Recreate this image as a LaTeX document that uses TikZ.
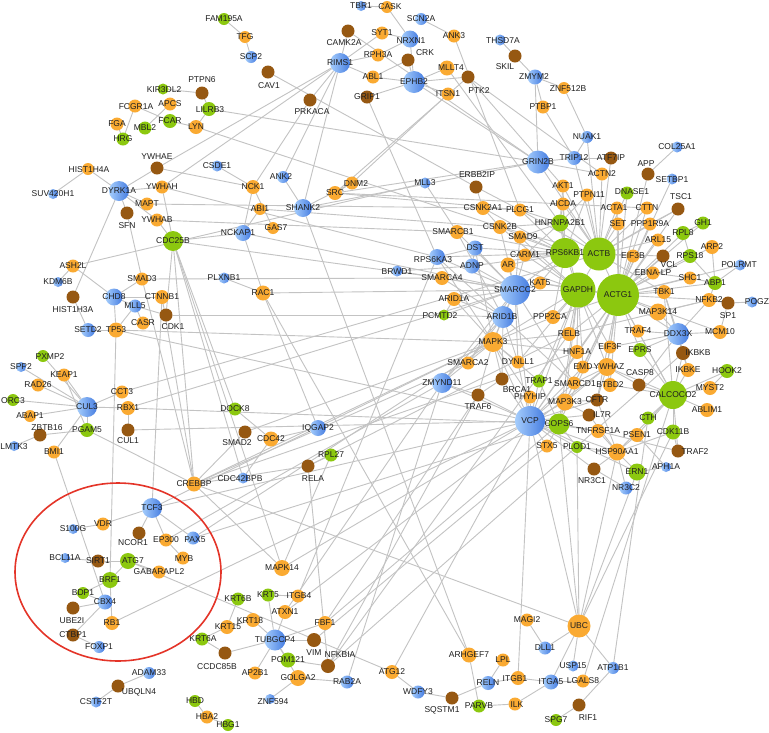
\documentclass[tikz,border=0pt]{standalone}
\usepackage{fontspec}
\setmainfont{Liberation Sans}
\usetikzlibrary{calc}
\definecolor{cO}{RGB}{250,170,50}
\definecolor{cB}{RGB}{150,88,18}
\definecolor{cG}{RGB}{140,200,15}
\definecolor{cUl}{RGB}{165,205,252}
\definecolor{cUd}{RGB}{70,125,225}
\definecolor{edc}{RGB}{195,195,195}
\definecolor{redc}{RGB}{228,52,40}
\pgfdeclarelayer{bg}\pgfsetlayers{bg,main}
\tikzset{
 nd/.style={circle,inner sep=0pt,outer sep=0pt},
 nO/.style={nd,fill=cO},
 nB/.style={nd,fill=cB},
 nG/.style={nd,fill=cG},
 nU/.style={nd,left color=cUl,right color=cUd},
 lbl/.style={font=\fontsize{8.5}{9}\selectfont,text=black!88,inner sep=0pt},
 edg/.style={draw=edc,line width=0.9pt}
}
\newcommand\lbls{}
\newcommand\nd[8]{\node[#2,minimum size=#5pt] (#1) at (#3,#4) {};
 \expandafter\gdef\expandafter\lbls\expandafter{\lbls\node[lbl] at ($(#1.center)+(#7,#8)$) {#6};}}
\begin{document}
\begin{tikzpicture}[x=1pt,y=-1pt]
\useasboundingbox (0,0) rectangle (769,732);
% top-left
\nd{FAM195A}{nG}{224}{19}{12}{FAM195A}{0}{0}
\nd{TFG}{nO}{245}{37}{12}{TFG}{0}{0}
\nd{SCP2}{nU}{251}{57}{12}{SCP2}{0}{0}
\nd{KIR3DL2}{nG}{163}{89}{11}{KIR3DL2}{1}{1}
\nd{PTPN6}{nB}{202}{93}{13}{PTPN6}{0}{-13}
\nd{FCGR1A}{nO}{135}{106}{13}{FCGR1A}{1}{1}
\nd{APCS}{nO}{170}{104}{13}{APCS}{0}{0}
\nd{LILRB3}{nG}{209}{109}{14}{LILRB3}{1}{1}
\nd{FGA}{nO}{117}{124}{13}{FGA}{0}{0}
\nd{MBL2}{nG}{145}{128}{13}{MBL2}{0}{0}
\nd{FCAR}{nG}{170}{121}{14}{FCAR}{0}{0}
\nd{LYN}{nO}{196}{127}{14}{LYN}{0}{0}
\nd{HRG}{nG}{123}{139}{13}{HRG}{0}{0}
\nd{YWHAE}{nB}{157}{168}{13}{YWHAE}{0}{-11}
\nd{HIST1H4A}{nO}{88}{169}{12}{HIST1H4A}{1}{1}
\nd{CSDE1}{nU}{217}{166}{11}{CSDE1}{0}{0}
% top-middle
\nd{TBR1}{nU}{361}{6}{10}{TBR1}{0}{0}
\nd{CASK}{nO}{387}{7}{12}{CASK}{3}{0}
\nd{SCN2A}{nU}{421}{19}{12}{SCN2A}{0}{0}
\nd{CAMK2A}{nB}{348}{31}{13}{CAMK2A}{-4}{12}
\nd{SYT1}{nO}{382}{33}{13}{SYT1}{0}{0}
\nd{NRXN1}{nU}{410}{39}{17}{NRXN1}{1}{2}
\nd{ANK3}{nO}{454}{36}{13}{ANK3}{0}{0}
\nd{THSD7A}{nU}{500}{40}{11}{THSD7A}{3}{1}
\nd{RIMS1}{nU}{340}{63}{20}{RIMS1}{0}{0}
\nd{RPH3A}{nO}{378}{55}{13}{RPH3A}{0}{0}
\nd{CRK}{nB}{408}{60}{13}{CRK}{17}{-7}
\nd{MLLT4}{nO}{447}{68}{15}{MLLT4}{4}{0}
\nd{SKIL}{nB}{515}{56}{13}{SKIL}{-10}{11}
\nd{ABL1}{nO}{373}{77}{13}{ABL1}{0}{0}
\nd{EPHB2}{nU}{414}{82}{22}{EPHB2}{0}{0}
\nd{PTK2}{nB}{468}{77}{13}{PTK2}{11}{14}
\nd{ITSN1}{nO}{448}{94}{13}{ITSN1}{0}{0}
\nd{CAV1}{nB}{268}{72}{13}{CAV1}{1}{14}
\nd{GRIP1}{nB}{367}{97}{13}{GRIP1}{0}{0}
\nd{PRKACA}{nB}{310}{100}{13}{PRKACA}{2}{12}
\nd{ZMYM2}{nU}{535}{77}{15}{ZMYM2}{-1}{0}
\nd{ZNF512B}{nO}{564}{88}{12}{ZNF512B}{4}{1}
\nd{PTBP1}{nO}{543}{107}{13}{PTBP1}{0}{0}
\nd{NUAK1}{nU}{587}{137}{12}{NUAK1}{0}{0}
\nd{COL25A1}{nU}{677}{147}{11}{COL25A1}{0}{0}
\nd{TRIP12}{nU}{574}{158}{14}{TRIP12}{0}{0}
\nd{ATF7IP}{nB}{611}{158}{13}{ATF7IP}{0}{0}
\nd{GRIN2B}{nU}{538}{162}{23}{GRIN2B}{0}{0}
\nd{APP}{nB}{648}{174}{13}{APP}{-2}{-10}
\nd{SETBP1}{nU}{672}{179}{11}{SETBP1}{0}{1}
\nd{ACTN2}{nO}{602}{174}{13}{ACTN2}{0}{0}
\nd{ERBB2IP}{nB}{476}{187}{13}{ERBB2IP}{1}{-12}
% left upper
\nd{SUV420H1}{nU}{53}{194}{10}{SUV420H1}{0}{0}
\nd{DYRK1A}{nU}{119}{191}{20}{DYRK1A}{0}{0}
\nd{YWHAH}{nO}{162}{187}{13}{YWHAH}{0}{0}
\nd{NCK1}{nO}{253}{187}{14}{NCK1}{0}{0}
\nd{ANK2}{nU}{283}{177}{12}{ANK2}{-2}{0}
\nd{DNM2}{nO}{352}{183}{13}{DNM2}{4}{1}
\nd{MLL3}{nU}{425}{183}{11}{MLL3}{0}{0}
\nd{MAPT}{nO}{147}{204}{13}{MAPT}{0}{0}
\nd{SFN}{nB}{127}{213}{13}{SFN}{0}{13}
\nd{YWHAB}{nO}{157}{220}{13}{YWHAB}{0}{0}
\nd{CDC25B}{nG}{173}{241}{20}{CDC25B}{0}{0}
\nd{NCKAP1}{nU}{243}{233}{16}{NCKAP1}{-5}{0}
\nd{SHANK2}{nU}{303}{208}{18}{SHANK2}{0}{0}
\nd{SRC}{nO}{335}{193}{14}{SRC}{0}{0}
\nd{ABI1}{nO}{260}{209}{12}{ABI1}{0}{0}
\nd{GAS7}{nO}{273}{228}{12}{GAS7}{3}{0}
\nd{ASH2L}{nO}{73}{266}{13}{ASH2L}{0}{0}
\nd{KDM6B}{nU}{58}{282}{10}{KDM6B}{0}{0}
\nd{SMAD3}{nO}{142}{279}{13}{SMAD3}{0}{0}
\nd{PLXNB1}{nU}{224}{278}{11}{PLXNB1}{0}{0}
\nd{HIST1H3A}{nB}{73}{297}{13}{HIST1H3A}{0}{13}
\nd{CHD8}{nU}{114}{297}{17}{CHD8}{0}{0}
\nd{CTNNB1}{nO}{162}{297}{14}{CTNNB1}{0}{0}
\nd{MLL5}{nU}{135}{306}{13}{MLL5}{0}{0}
\nd{CDK1}{nB}{166}{315}{13}{CDK1}{7}{12}
\nd{CASR}{nO}{143}{323}{13}{CASR}{0}{0}
\nd{SETD2}{nU}{88}{330}{14}{SETD2}{0}{0}
\nd{TP53}{nO}{116}{330}{15}{TP53}{0}{0}
\nd{RAC1}{nO}{263}{293}{15}{RAC1}{0}{0}
\nd{PXMP2}{nG}{43}{356}{12}{PXMP2}{7}{1}
% center
\nd{CSNK2A1}{nO}{483}{208}{14}{CSNK2A1}{0}{0}
\nd{SMARCB1}{nO}{457}{232}{14}{SMARCB1}{-4}{0}
\nd{CSNK2B}{nO}{500}{227}{14}{CSNK2B}{0}{0}
\nd{DST}{nU}{475}{248}{15}{DST}{0}{0}
\nd{RPS6KA3}{nU}{437}{257}{16}{RPS6KA3}{-4}{3}
\nd{ADNP}{nU}{472}{266}{15}{ADNP}{0}{0}
\nd{AR}{nO}{508}{265}{15}{AR}{0}{0}
\nd{BRWD1}{nU}{397}{271}{11}{BRWD1}{0}{1}
\nd{SMARCA4}{nO}{442}{278}{14}{SMARCA4}{0}{0}
\nd{ARID1A}{nO}{454}{299}{14}{ARID1A}{0}{0}
\nd{PCMTD2}{nG}{444}{315}{11}{PCMTD2}{-4}{1}
\nd{MAPK3}{nO}{493}{342}{20}{MAPK3}{0}{0}
\nd{SMARCA2}{nO}{468}{363}{13}{SMARCA2}{0}{0}
\nd{ARID1B}{nU}{503}{317}{22}{ARID1B}{-1}{0}
\nd{SMARCC2}{nU}{515}{290}{30}{SMARCC2}{0}{0}
% right cluster
\nd{AKT1}{nO}{563}{186}{13}{AKT1}{0}{0}
\nd{DNASE1}{nG}{627}{193}{13}{DNASE1}{5}{-1}
\nd{PTPN11}{nO}{587}{195}{13}{PTPN11}{2}{0}
\nd{TSC1}{nB}{678}{209}{13}{TSC1}{3}{-12}
\nd{AICDA}{nO}{563}{204}{13}{AICDA}{0}{0}
\nd{PLCG1}{nO}{520}{210}{13}{PLCG1}{0}{0}
\nd{ACTA1}{nO}{617}{208}{13}{ACTA1}{-3}{0}
\nd{CTTN}{nO}{647}{208}{13}{CTTN}{0}{0}
\nd{HNRNPA2B1}{nG}{560}{223}{17}{HNRNPA2B1}{0}{0}
\nd{SET}{nO}{618}{224}{13}{SET}{0}{0}
\nd{PPP1R9A}{nO}{650}{224}{13}{PPP1R9A}{0}{0}
\nd{GH1}{nG}{703}{223}{13}{GH1}{0}{0}
\nd{RPL8}{nG}{683}{233}{14}{RPL8}{0}{0}
\nd{SMAD9}{nO}{520}{237}{13}{SMAD9}{3}{0}
\nd{ARL15}{nO}{658}{240}{13}{ARL15}{0}{0}
\nd{ARP2}{nO}{712}{247}{14}{ARP2}{0}{0}
\nd{RPS6KB1}{nG}{565}{253}{30}{RPS6KB1}{0}{0}
\nd{ACTB}{nG}{599}{254}{33}{ACTB}{0}{0}
\nd{EIF3B}{nO}{633}{256}{13}{EIF3B}{0}{0}
\nd{VCL}{nB}{663}{256}{13}{VCL}{6}{9}
\nd{RPS18}{nG}{690}{256}{14}{RPS18}{0}{0}
\nd{CARM1}{nO}{525}{255}{13}{CARM1}{0}{0}
\nd{POLRMT}{nU}{740}{265}{11}{POLRMT}{-1}{0}
\nd{EBNALP}{nO}{653}{273}{13}{EBNA-LP}{0}{0}
\nd{SHC1}{nO}{690}{278}{13}{SHC1}{0}{0}
\nd{ABP1}{nG}{715}{283}{14}{ABP1}{0}{0}
\nd{KAT5}{nO}{540}{283}{13}{KAT5}{0}{0}
\nd{GAPDH}{nG}{578}{290}{35}{GAPDH}{0}{0}
\nd{ACTG1}{nG}{618}{295}{42}{ACTG1}{0}{0}
\nd{TBK1}{nO}{664}{292}{14}{TBK1}{0}{0}
\nd{NFKB2}{nO}{709}{300}{14}{NFKB2}{0}{0}
\nd{SP1}{nB}{728}{303}{13}{SP1}{0}{13}
\nd{POGZ}{nU}{752}{302}{11}{POGZ}{5}{0}
\nd{MAP3K14}{nO}{658}{312}{17}{MAP3K14}{0}{0}
\nd{PPP2CA}{nO}{553}{317}{14}{PPP2CA}{-3}{0}
\nd{DDX3X}{nU}{678}{334}{22}{DDX3X}{0}{0}
\nd{MCM10}{nO}{720}{332}{14}{MCM10}{0}{0}
\nd{RELB}{nO}{569}{334}{14}{RELB}{0}{0}
\nd{TRAF4}{nO}{638}{331}{13}{TRAF4}{0}{0}
\nd{HNF1A}{nO}{577}{352}{14}{HNF1A}{0}{0}
\nd{EIF3F}{nO}{610}{347}{13}{EIF3F}{0}{0}
\nd{EPRS}{nG}{640}{350}{14}{EPRS}{0}{0}
\nd{IKBKB}{nB}{683}{353}{14}{IKBKB}{15}{0}
\nd{DYNLL1}{nO}{518}{362}{13}{DYNLL1}{0}{0}
\nd{EMD}{nO}{583}{367}{13}{EMD}{0}{0}
\nd{YWHAZ}{nO}{607}{367}{18}{YWHAZ}{2}{0}
\nd{CASP8}{nB}{639}{385}{13}{CASP8}{1}{-12}
\nd{IKBKE}{nO}{688}{370}{14}{IKBKE}{0}{0}
\nd{HOOK2}{nG}{727}{371}{14}{HOOK2}{0}{0}
\nd{TRAP1}{nG}{539}{381}{13}{TRAP1}{0}{0}
\nd{SMARCD1}{nO}{574}{383}{13}{SMARCD1}{1}{1}
\nd{BTBD2}{nO}{610}{385}{14}{BTBD2}{0}{0}
\nd{MYST2}{nO}{710}{388}{14}{MYST2}{0}{0}
\nd{CALCOCO2}{nG}{673}{395}{28}{CALCOCO2}{0}{0}
\nd{PHYHIP}{nO}{530}{397}{13}{PHYHIP}{0}{0}
\nd{MAP3K3}{nO}{565}{402}{17}{MAP3K3}{0}{0}
\nd{CFTR}{nB}{597}{400}{13}{CFTR}{0}{0}
\nd{IL7R}{nB}{589}{415}{13}{IL7R}{13}{0}
\nd{ABLIM1}{nO}{707}{410}{14}{ABLIM1}{0}{0}
\nd{VCP}{nU}{530}{421}{30}{VCP}{0}{0}
\nd{COPS6}{nG}{559}{424}{21}{COPS6}{0}{0}
\nd{CTH}{nG}{648}{418}{13}{CTH}{0}{0}
\nd{TNFRSF1A}{nO}{598}{431}{14}{TNFRSF1A}{0}{0}
\nd{PSEN1}{nO}{637}{435}{14}{PSEN1}{0}{0}
\nd{CDK11B}{nG}{673}{432}{15}{CDK11B}{0}{0}
\nd{STX5}{nO}{547}{446}{13}{STX5}{0}{0}
\nd{PLOD1}{nG}{577}{447}{12}{PLOD1}{0}{0}
\nd{HSP90AA1}{nO}{617}{452}{17}{HSP90AA1}{0}{0}
\nd{TRAF2}{nB}{678}{451}{13}{TRAF2}{17}{1}
\nd{APH1A}{nU}{666}{467}{10}{APH1A}{0}{0}
\nd{NR3C1}{nB}{594}{469}{13}{NR3C1}{-2}{12}
\nd{ERN1}{nG}{637}{472}{17}{ERN1}{0}{0}
\nd{NR3C2}{nU}{626}{488}{13}{NR3C2}{0}{0}
\nd{ZMYND11}{nU}{442}{383}{20}{ZMYND11}{0}{0}
\nd{BRCA1}{nB}{502}{379}{13}{BRCA1}{15}{11}
\nd{TRAF6}{nB}{478}{395}{13}{TRAF6}{0}{12}
% left lower
\nd{SPP2}{nU}{21}{367}{10}{SPP2}{0}{0}
\nd{KEAP1}{nO}{64}{375}{13}{KEAP1}{0}{0}
\nd{RAD26}{nO}{38}{385}{13}{RAD26}{0}{0}
\nd{CCT3}{nO}{122}{392}{13}{CCT3}{0}{0}
\nd{ORC3}{nG}{13}{400}{12}{ORC3}{0}{1}
\nd{CUL3}{nU}{87}{407}{20}{CUL3}{0}{0}
\nd{RBX1}{nO}{128}{408}{14}{RBX1}{0}{0}
\nd{ABAP1}{nO}{30}{416}{12}{ABAP1}{0}{0}
\nd{DOCK8}{nG}{235}{409}{13}{DOCK8}{0}{0}
\nd{ZBTB16}{nB}{40}{435}{13}{ZBTB16}{7}{-7}
\nd{PGAM5}{nG}{87}{430}{14}{PGAM5}{0}{0}
\nd{CUL1}{nB}{128}{430}{13}{CUL1}{0}{11}
\nd{SMAD2}{nB}{245}{432}{13}{SMAD2}{-8}{11}
\nd{LMTK3}{nU}{14}{446}{10}{LMTK3}{0}{1}
\nd{BMI1}{nO}{54}{452}{13}{BMI1}{0}{0}
\nd{CDC42}{nO}{271}{439}{15}{CDC42}{0}{0}
\nd{IQGAP2}{nU}{318}{428}{16}{IQGAP2}{0}{0}
\nd{RPL27}{nG}{331}{455}{13}{RPL27}{0}{0}
\nd{RELA}{nB}{308}{466}{13}{RELA}{5}{13}
\nd{CREBBP}{nO}{194}{484}{15}{CREBBP}{0}{0}
\nd{CDC42BPB}{nU}{243}{478}{11}{CDC42BPB}{-3}{1}
\nd{TCF3}{nU}{152}{508}{20}{TCF3}{0}{0}
\nd{VDR}{nO}{103}{524}{13}{VDR}{0}{0}
\nd{S100G}{nU}{73}{529}{10}{S100G}{0}{0}
\nd{NCOR1}{nB}{139}{533}{13}{NCOR1}{-6}{10}
\nd{EP300}{nO}{166}{540}{13}{EP300}{0}{0}
\nd{PAX5}{nU}{193}{538}{13}{PAX5}{2}{2}
\nd{BCL11A}{nU}{65}{558}{10}{BCL11A}{0}{0}
\nd{SIRT1}{nB}{98}{561}{13}{SIRT1}{0}{0}
\nd{ATG7}{nG}{128}{561}{16}{ATG7}{5}{0}
\nd{MYB}{nO}{183}{558}{13}{MYB}{1}{1}
\nd{GABARAPL2}{nO}{159}{572}{13}{GABARAPL2}{0}{0}
\nd{BRF1}{nG}{110}{580}{16}{BRF1}{0}{0}
\nd{BDP1}{nG}{83}{593}{12}{BDP1}{0}{0}
\nd{CBX4}{nU}{105}{602}{15}{CBX4}{0}{0}
\nd{KRT6B}{nG}{238}{599}{13}{KRT6B}{0}{0}
\nd{UBE2I}{nB}{73}{608}{13}{UBE2I}{-1}{13}
\nd{RB1}{nO}{112}{623}{14}{RB1}{0}{0}
\nd{KRT15}{nO}{227}{627}{14}{KRT15}{1}{0}
\nd{CTBP1}{nB}{73}{635}{13}{CTBP1}{0}{0}
\nd{KRT6A}{nG}{202}{639}{13}{KRT6A}{1}{0}
\nd{FOXP1}{nU}{99}{647}{12}{FOXP1}{0}{0}
\nd{CCDC85B}{nB}{225}{653}{13}{CCDC85B}{-8}{14}
\nd{ADAM33}{nU}{149}{673}{12}{ADAM33}{0}{0}
\nd{UBQLN4}{nB}{118}{686}{13}{UBQLN4}{21}{6}
\nd{CSTF2T}{nU}{96}{702}{11}{CSTF2T}{0}{0}
\nd{HBD}{nG}{195}{701}{12}{HBD}{0}{0}
\nd{HBA2}{nO}{207}{717}{13}{HBA2}{0}{0}
\nd{HBG1}{nG}{228}{725}{12}{HBG1}{0}{0}
% bottom middle
\nd{MAPK14}{nO}{282}{568}{16}{MAPK14}{0}{0}
\nd{KRT5}{nG}{268}{595}{13}{KRT5}{0}{0}
\nd{ITGB4}{nO}{298}{596}{13}{ITGB4}{1}{0}
\nd{KRT18}{nO}{253}{620}{14}{KRT18}{-3}{1}
\nd{ATXN1}{nO}{285}{612}{14}{ATXN1}{0}{0}
\nd{FBF1}{nO}{325}{623}{14}{FBF1}{0}{0}
\nd{TUBGCP4}{nU}{275}{640}{21}{TUBGCP4}{0}{0}
\nd{VIM}{nB}{314}{640}{14}{VIM}{0}{13}
\nd{POM121}{nG}{288}{660}{15}{POM121}{0}{0}
\nd{NFKBIA}{nB}{328}{666}{14}{NFKBIA}{12}{-11}
\nd{AP2B1}{nO}{255}{673}{13}{AP2B1}{0}{0}
\nd{GOLGA2}{nO}{298}{678}{16}{GOLGA2}{0}{0}
\nd{RAB2A}{nU}{347}{682}{13}{RAB2A}{0}{0}
\nd{ATG12}{nO}{392}{672}{14}{ATG12}{0}{0}
\nd{ZNF594}{nU}{270}{699}{10}{ZNF594}{3}{3}
\nd{WDFY3}{nU}{418}{692}{13}{WDFY3}{0}{0}
\nd{SQSTM1}{nB}{452}{698}{13}{SQSTM1}{-10}{12}
\nd{ARHGEF7}{nO}{469}{655}{15}{ARHGEF7}{0}{0}
\nd{LPL}{nO}{503}{660}{13}{LPL}{0}{0}
\nd{RELN}{nU}{488}{683}{14}{RELN}{0}{0}
\nd{PARVB}{nG}{479}{706}{13}{PARVB}{0}{0}
\nd{ITGB1}{nO}{518}{678}{14}{ITGB1}{-3}{1}
\nd{ILK}{nO}{515}{704}{13}{ILK}{2}{1}
\nd{MAGI2}{nO}{527}{620}{13}{MAGI2}{0}{0}
\nd{UBC}{nO}{579}{626}{23}{UBC}{0}{0}
\nd{DLL1}{nU}{545}{648}{13}{DLL1}{0}{0}
\nd{USP15}{nU}{573}{666}{11}{USP15}{0}{0}
\nd{ATP1B1}{nU}{613}{668}{12}{ATP1B1}{0}{0}
\nd{ITGA5}{nU}{551}{682}{15}{ITGA5}{0}{0}
\nd{LGALS8}{nO}{583}{681}{13}{LGALS8}{0}{0}
\nd{RIF1}{nB}{579}{705}{13}{RIF1}{9}{13}
\nd{SPG7}{nG}{556}{720}{12}{SPG7}{0}{0}
% labels on top of all nodes
\lbls
% red circle
\draw[redc,line width=1.6pt] (118,572) ellipse [x radius=103, y radius=89];
% edges
\begin{pgfonlayer}{bg}
\fill[white] (0,0) rectangle (769,732);
\foreach \a/\b in {FAM195A/TFG,TFG/SCP2,KIR3DL2/PTPN6,PTPN6/LILRB3,LILRB3/LYN,FCGR1A/FCAR,FCAR/LYN,APCS/MBL2,FCGR1A/HRG,FGA/HRG,LILRB3/GRIN2B,LYN/CSNK2B,HIST1H4A/SUV420H1,HIST1H4A/DYRK1A,YWHAE/DYRK1A,YWHAE/NCK1,CSDE1/NCK1,RIMS1/YWHAE,RIMS1/YWHAH,
TBR1/CASK,CASK/NRXN1,SCN2A/ANK3,CAMK2A/RIMS1,SYT1/RIMS1,SYT1/NRXN1,RPH3A/RIMS1,RPH3A/NRXN1,NRXN1/EPHB2,RIMS1/ABL1,ABL1/EPHB2,CRK/EPHB2,CRK/ABL1,EPHB2/MLLT4,EPHB2/PTK2,EPHB2/ITSN1,GRIP1/EPHB2,RIMS1/PRKACA,RIMS1/ANK2,RIMS1/SHANK2,PRKACA/NCK1,CAV1/ERBB2IP,THSD7A/SKIL,SKIL/ZMYM2,ZMYM2/ZNF512B,ZMYM2/PTBP1,ZMYM2/GRIN2B,PTBP1/TRIP12,ZNF512B/NUAK1,NUAK1/TRIP12,TRIP12/ATF7IP,TRIP12/GRIN2B,GRIN2B/ACTN2,APP/COL25A1,ANK3/PLCG1,MLLT4/HNRNPA2B1,PTK2/SRC,PTK2/ACTN2,PTK2/AKT1,ITSN1/DNM2,GRIP1/RPS6KA3,EPHB2/GRIN2B,CAMK2A/GRIN2B,SHANK2/GRIN2B,SRC/GRIN2B,
DYRK1A/YWHAH,DYRK1A/YWHAB,DYRK1A/SFN,DYRK1A/HIST1H3A,DYRK1A/MAPT,SFN/SMAD3,YWHAB/CDC25B,YWHAH/CDC25B,CDC25B/NCKAP1,CDC25B/CREBBP,CDC25B/CDC42BPB,CDC25B/SMARCA4,MAPT/CSNK2A1,YWHAH/RPS6KA3,YWHAB/SMARCB1,NCKAP1/ABI1,NCKAP1/NCK1,NCKAP1/RAC1,ASH2L/CHD8,ASH2L/KDM6B,ASH2L/MLL3,CHD8/SMAD3,CHD8/CTNNB1,CHD8/TP53,CHD8/MLL5,HIST1H3A/SETD2,SETD2/TP53,MLL5/TP53,MLL5/CDK1,CASR/MLL5,SMAD3/SMARCA4,PLXNB1/RAC1,SMAD3/CREBBP,CDK1/PCMTD2,TP53/MAPK3,TP53/BRF1,PXMP2/CUL3,CTNNB1/TCF3,CDK1/CDC25B,CTNNB1/CREBBP,TP53/VCP,
SPP2/CUL3,KEAP1/CUL3,RAD26/CUL3,ORC3/CUL3,ABAP1/CUL3,CCT3/CUL3,RBX1/CUL3,ZBTB16/PGAM5,ZBTB16/LMTK3,KEAP1/PGAM5,CUL3/PGAM5,CUL3/BMI1,RBX1/CUL1,CUL1/VCP,PGAM5/CREBBP,BMI1/CBX4,RBX1/SMARCC2,RBX1/COPS6,CCT3/ACTB,DOCK8/CDC25B,DOCK8/CDC42,SMAD2/CREBBP,CDC42/CDC42BPB,CDC42/IQGAP2,RELA/RPL27,RELA/CREBBP,RAC1/SMARCC2,RAC1/ARHGEF7,RAC1/IQGAP2,SHANK2/ARHGEF7,SHANK2/DNM2,SRC/DNM2,SRC/PLCG1,SRC/CTTN,NCKAP1/SMARCC2,SMAD2/MAPK3,RELA/RELB,RELA/NFKBIA,
TCF3/VDR,S100G/VDR,TCF3/NCOR1,TCF3/EP300,TCF3/MAPK3,TCF3/VCP,CREBBP/SMARCA2,CREBBP/HNF1A,CREBBP/MAPK3,CREBBP/UBC,CREBBP/MAPK14,EP300/MYB,EP300/ZMYND11,PAX5/TCF3,PAX5/MAPK3,PAX5/COPS6,RB1/VCP,ATG7/GABARAPL2,ATG7/ATG12,ATG7/BRF1,BCL11A/SIRT1,SIRT1/ATG7,BRF1/BDP1,BRF1/RB1,UBE2I/CBX4,BDP1/CBX4,CBX4/CTBP1,CTBP1/FOXP1,ADAM33/UBQLN4,UBQLN4/CSTF2T,HBD/HBA2,HBA2/HBG1,
KRT5/ITGB4,KRT6B/KRT15,KRT6A/KRT15,KRT6A/CCDC85B,KRT15/KRT18,CCDC85B/TUBGCP4,TUBGCP4/VIM,TUBGCP4/POM121,TUBGCP4/GOLGA2,TUBGCP4/AP2B1,TUBGCP4/KRT18,TUBGCP4/FBF1,TUBGCP4/ATXN1,TUBGCP4/KRT5,ZNF594/GOLGA2,POM121/NFKBIA,GOLGA2/RAB2A,ATG12/WDFY3,WDFY3/SQSTM1,SQSTM1/RELN,LPL/RELN,RELN/ITGB1,ARHGEF7/PARVB,PARVB/ILK,ILK/ITGA5,ITGB1/ITGA5,ITGB1/VCP,MAGI2/DLL1,DLL1/UBC,UBC/USP15,UBC/ITGA5,UBC/ATP1B1,UBC/VCP,UBC/COPS6,UBC/PLOD1,UBC/HSP90AA1,UBC/ERN1,UBC/CDK11B,LGALS8/CALCOCO2,ITGA5/LGALS8,ATP1B1/CTH,ATP1B1/RIF1,RIF1/SPG7,MAPK14/VCP,MAPK14/CDC25B,MAPK14/RPL27,NFKBIA/TRAF6,NFKBIA/IKBKB,NFKBIA/RELB,FBF1/TRAF6,FBF1/COPS6,VIM/STX5,VCP/ATG12,ATXN1/YWHAZ,RAB2A/ZMYND11,ATXN1/ZMYND11,ITGB4/RPS6KA3,
SMARCC2/ARID1B,SMARCC2/ARID1A,SMARCC2/SMARCA4,SMARCC2/SMARCB1,SMARCC2/SMARCA2,SMARCC2/SMARCD1,SMARCC2/ADNP,SMARCC2/DST,SMARCC2/RPS6KA3,SMARCC2/KAT5,SMARCC2/AR,SMARCC2/CARM1,SMARCC2/MAPK3,SMARCC2/BRWD1,SMARCC2/PCMTD2,SMARCC2/ZMYND11,SMARCC2/GAPDH,SMARCC2/RPS6KB1,SMARCC2/DYNLL1,SMARCC2/SMAD9,SMARCC2/CSNK2B,SMARCC2/VCP,
ARID1B/SMARCA4,ARID1B/ARID1A,ARID1B/SMARCB1,ARID1B/SMARCA2,ARID1B/SMARCD1,ARID1B/PCMTD2,ARID1B/ZMYND11,ARID1B/DYNLL1,ARID1B/BRCA1,ARID1B/RPS6KA3,ARID1B/MAPK3,
MAPK3/ZMYND11,MAPK3/TRAF6,MAPK3/BRCA1,MAPK3/DYNLL1,MAPK3/HNF1A,MAPK3/RELB,MAPK3/PPP2CA,MAPK3/GAPDH,MAPK3/TRAP1,MAPK3/PHYHIP,MAPK3/VCP,MAPK3/RPS6KA3,MAPK3/DST,MAPK3/ARID1A,
GAPDH/RPS6KB1,GAPDH/ACTB,GAPDH/ACTG1,GAPDH/KAT5,GAPDH/PPP2CA,GAPDH/RELB,GAPDH/AR,GAPDH/CARM1,GAPDH/HNF1A,GAPDH/VCP,GAPDH/COPS6,GAPDH/YWHAZ,GAPDH/EIF3F,GAPDH/EMD,GAPDH/MAP3K3,GAPDH/DYNLL1,GAPDH/TRAP1,GAPDH/CSNK2B,GAPDH/HNRNPA2B1,GAPDH/SMAD9,
RPS6KB1/HNRNPA2B1,RPS6KB1/SMAD9,RPS6KB1/CARM1,RPS6KB1/AR,RPS6KB1/CSNK2B,RPS6KB1/CSNK2A1,RPS6KB1/PLCG1,RPS6KB1/AICDA,RPS6KB1/AKT1,RPS6KB1/PTPN11,RPS6KB1/DST,RPS6KB1/ADNP,RPS6KB1/PPP2CA,RPS6KB1/KAT5,RPS6KB1/RPS6KA3,RPS6KB1/SMARCB1,
ACTB/ACTG1,ACTB/HNRNPA2B1,ACTB/ACTA1,ACTB/CTTN,ACTB/SET,ACTB/AICDA,ACTB/AKT1,ACTB/PTPN11,ACTB/DNASE1,ACTB/ACTN2,ACTB/PLCG1,ACTB/EIF3B,ACTB/VCL,ACTB/TBK1,ACTB/PPP1R9A,ACTB/ARL15,ACTB/ATF7IP,ACTB/TRIP12,ACTB/GRIN2B,ACTB/NUAK1,ACTB/CSNK2B,ACTB/TSC1,
ACTG1/SET,ACTG1/ACTA1,ACTG1/CTTN,ACTG1/EIF3B,ACTG1/VCL,ACTG1/EBNALP,ACTG1/TBK1,ACTG1/MAP3K14,ACTG1/TRAF4,ACTG1/EIF3F,ACTG1/EPRS,ACTG1/DDX3X,ACTG1/NFKB2,ACTG1/SHC1,ACTG1/RPS18,ACTG1/ABP1,ACTG1/ARP2,ACTG1/RPL8,ACTG1/GH1,ACTG1/PPP1R9A,ACTG1/ARL15,ACTG1/CALCOCO2,ACTG1/KAT5,ACTG1/PPP2CA,ACTG1/RELB,ACTG1/YWHAZ,ACTG1/HNF1A,ACTG1/EMD,ACTG1/BTBD2,ACTG1/CFTR,ACTG1/COPS6,ACTG1/MAP3K3,ACTG1/VCP,ACTG1/TSC1,ACTG1/DNASE1,ACTG1/APP,ACTG1/SETBP1,ACTG1/MCM10,ACTG1/POLRMT,
DDX3X/IKBKB,DDX3X/IKBKE,DDX3X/TBK1,DDX3X/MCM10,DDX3X/NFKB2,DDX3X/TRAF4,DDX3X/MAP3K14,DDX3X/CASP8,DDX3X/EPRS,DDX3X/EIF3F,
CALCOCO2/TBK1,CALCOCO2/CASP8,CALCOCO2/IKBKE,CALCOCO2/HOOK2,CALCOCO2/MYST2,CALCOCO2/ABLIM1,CALCOCO2/CDK11B,CALCOCO2/CTH,CALCOCO2/TRAF2,CALCOCO2/BTBD2,CALCOCO2/YWHAZ,CALCOCO2/IKBKB,CALCOCO2/EPRS,CALCOCO2/PSEN1,CALCOCO2/HSP90AA1,CALCOCO2/TRAF4,
VCP/COPS6,VCP/STX5,VCP/PLOD1,VCP/TRAP1,VCP/PHYHIP,VCP/MAP3K3,VCP/SMARCD1,VCP/DYNLL1,VCP/HNF1A,VCP/BRCA1,VCP/TRAF6,VCP/NR3C1,VCP/HSP90AA1,VCP/ERN1,VCP/IL7R,VCP/CFTR,VCP/TNFRSF1A,VCP/EMD,VCP/ZMYND11,
YWHAZ/EMD,YWHAZ/BTBD2,YWHAZ/CFTR,YWHAZ/MAP3K3,YWHAZ/CASP8,YWHAZ/SMARCD1,YWHAZ/EIF3F,
HSP90AA1/NR3C1,HSP90AA1/NR3C2,HSP90AA1/ERN1,HSP90AA1/TNFRSF1A,HSP90AA1/PSEN1,HSP90AA1/IL7R,HSP90AA1/CDK11B,HSP90AA1/CFTR,HSP90AA1/PLOD1,
PSEN1/APH1A,ERN1/APH1A,TRAF2/TNFRSF1A,TRAF2/CDK11B,NR3C1/NR3C2,COPS6/STX5,COPS6/PLOD1,COPS6/TRAP1,COPS6/MAP3K3,COPS6/TNFRSF1A,MAP3K3/SMARCD1,MAP3K3/IL7R,MAP3K3/CFTR,TRAF6/BRCA1,TRAF6/ZMYND11,
HNRNPA2B1/SMAD9,HNRNPA2B1/CARM1,HNRNPA2B1/AICDA,HNRNPA2B1/PLCG1,HNRNPA2B1/CSNK2B,HNRNPA2B1/AKT1,HNRNPA2B1/PTPN11,CSNK2A1/CSNK2B,CSNK2A1/PLCG1,
NFKB2/SP1,SP1/POGZ,NFKB2/ABP1,ABP1/SHC1,ABP1/RPS18,ABP1/ARP2,RPS18/RPL8,RPL8/GH1,TSC1/PPP1R9A,SHC1/EBNALP,MCM10/SP1,IKBKB/IKBKE,POLRMT/ABP1,IKBKE/TBK1,MAP3K14/NFKB2,NFKB2/RELB,TBK1/IKBKB,HOOK2/MYST2,ERBB2IP/CSNK2A1,ERBB2IP/PLCG1,MLL3/SMARCB1,BRWD1/ADNP,PCMTD2/ARID1A,DST/ADNP,RPS6KA3/DST,ANK2/SHANK2,GAS7/NCK1,ABI1/CSNK2B}
  \draw[edg] (\a) -- (\b);
\end{pgfonlayer}
\end{tikzpicture}
\end{document}
